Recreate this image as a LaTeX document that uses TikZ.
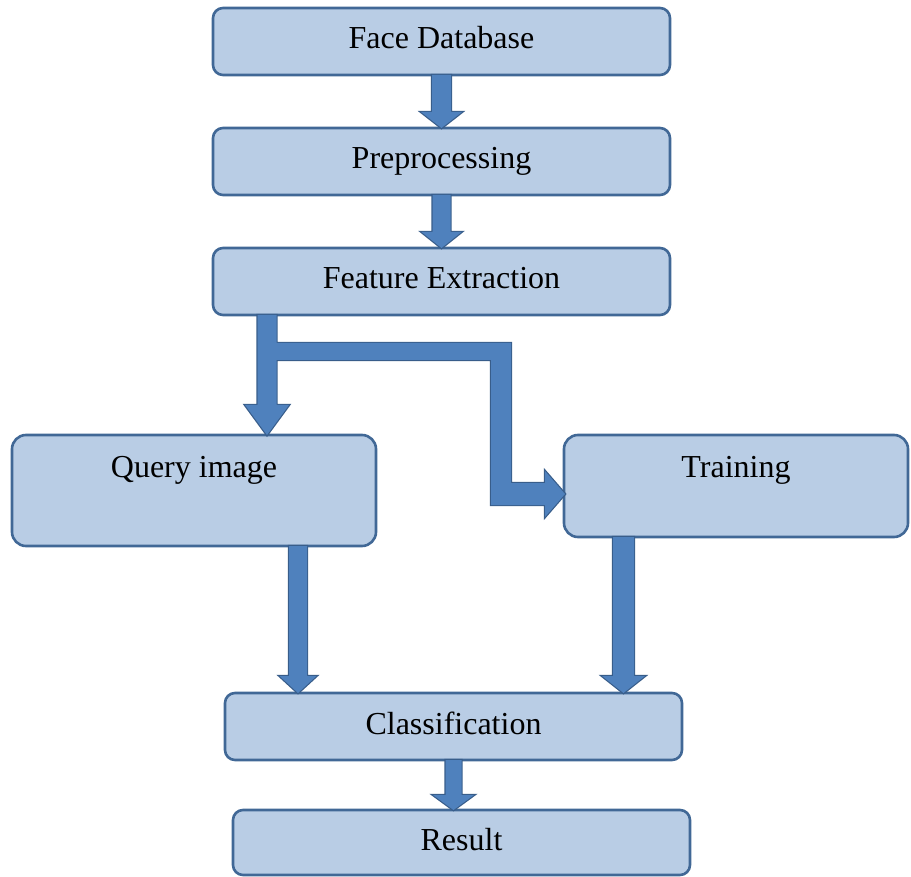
\documentclass[tikz,border=0pt]{standalone}
\usepackage{fontspec}
\setmainfont{Liberation Serif}
\usetikzlibrary{positioning,calc}
\definecolor{boxfill}{RGB}{185,205,229}
\definecolor{boxline}{RGB}{65,104,150}
\definecolor{arrfill}{RGB}{79,129,189}
\definecolor{arrline}{RGB}{56,93,138}
\tikzset{
  stage/.style={draw=boxline,line width=1.3pt,fill=boxfill,rounded corners=5pt,
    minimum width=228.5pt,minimum height=33.5pt,inner sep=2pt,outer sep=0pt,
    text height=11.5pt,text depth=4pt,
    font=\fontsize{16}{19}\selectfont,text=black},
  tallstage/.style 2 args={stage,rounded corners=7pt,inner ysep=0pt,
    text height=#1,text depth=#2},
  blk/.style={fill=arrfill,preaction={draw=arrline,line width=1.2pt},line join=miter},
}
% vertical block arrow: from, tip, shaft half width, head half width, head length
\newcommand{\blkdown}[5]{%
  \path[blk] ($(#1)+(-#3,0)$) -- ($(#2)+(-#3,#5)$) -- ($(#2)+(-#4,#5)$) -- (#2)
    -- ($(#2)+(#4,#5)$) -- ($(#2)+(#3,#5)$) -- ($(#1)+(#3,0)$) -- cycle;}

\begin{document}
\begin{tikzpicture}
\useasboundingbox (0,0) rectangle (455.5pt,-438.5pt);
\node[stage] (fdb) at (220.75pt,-20.75pt) {Face Database};
\node[stage,below=26.5pt of fdb] (pre) {Preprocessing};
\node[stage,below=26.5pt of pre] (fe) {Feature Extraction};
\node[tallstage={21.5pt}{34pt},minimum width=182pt,below left=60pt and -81.5pt of fe] (query) {Query image};
\node[tallstage={21pt}{30pt},minimum width=172pt,below right=60pt and -53pt of fe] (train) {Training};
\node[stage,below right=73.5pt and 106.5pt of query.south west] (cls) {Classification};
\node[stage,minimum height=32.5pt,below right=25pt and 4pt of cls.south west] (res) {Result};

\blkdown{fdb.south}{pre.north}{4.75pt}{10.25pt}{8pt}
\blkdown{pre.south}{fe.north}{4.5pt}{10pt}{8pt}

% split below feature extraction
\coordinate (qtop) at ($(fe.south west)+(27pt,0)$);
\coordinate (qtip) at (qtop |- query.north);
\coordinate (fork) at ($(qtop)+(0,-18.25pt)$);
\coordinate (bx) at ($(fe.south)+(29.75pt,0)$);
\coordinate (ttip) at ($(train.north west)+(0.5pt,-29.5pt)$);
\coordinate (bf) at (bx |- fork);
\coordinate (bt) at (bx |- ttip);
\path[blk] ($(qtop)+(-4.75pt,0)$) -- ($(qtip)+(-4.75pt,15pt)$) -- ($(qtip)+(-11pt,15pt)$) -- (qtip)
  -- ($(qtip)+(11pt,15pt)$) -- ($(qtip)+(4.75pt,15pt)$) -- ($(qtop)+(4.75pt,0)$) -- cycle
  ($(fork)+(0,-4.25pt)$) -- ($(bf)+(-5pt,-4.25pt)$) -- ($(bt)+(-5pt,-5.5pt)$) -- ($(ttip)+(-10pt,-5.5pt)$)
  -- ($(ttip)+(-10pt,-11.5pt)$) -- (ttip) -- ($(ttip)+(-10pt,11.5pt)$) -- ($(ttip)+(-10pt,5.5pt)$)
  -- ($(bt)+(5pt,5.5pt)$) -- ($(bf)+(5pt,4.25pt)$) -- ($(fork)+(0,4.25pt)$) -- cycle;

\coordinate (qbot) at ($(query.south east)+(-39pt,0)$);
\coordinate (tbot) at ($(train.south west)+(29.75pt,0)$);
\coordinate (cq) at (qbot |- cls.north);
\coordinate (ct) at (tbot |- cls.north);
\coordinate (cr) at (cls.south |- res.north);
\blkdown{qbot}{cq}{4.5pt}{9.25pt}{8.5pt}
\blkdown{tbot}{ct}{5.25pt}{10.75pt}{8.5pt}
\blkdown{cls.south}{cr}{4pt}{10.25pt}{7.5pt}
\end{tikzpicture}
\end{document}
